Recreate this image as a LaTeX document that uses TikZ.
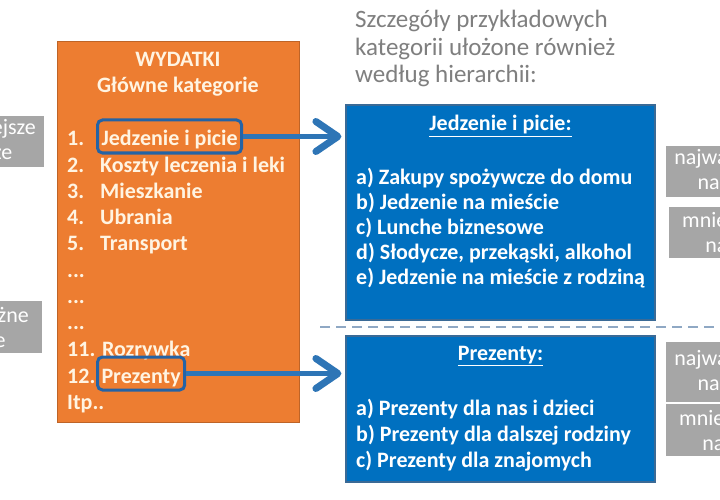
\documentclass[tikz,border=0pt]{standalone}
\usepackage{fontspec}
\setmainfont{Carlito}
\usetikzlibrary{arrows.meta}
\definecolor{pomarancz}{HTML}{ED7D31}
\definecolor{krem}{HTML}{FFF4E2}
\definecolor{niebieski}{HTML}{0070C0}
\definecolor{ramka}{HTML}{3A6A96}
\definecolor{wybor}{HTML}{2463A5}
\definecolor{strzal}{HTML}{2E75B6}
\definecolor{szary}{HTML}{A6A6A6}
\definecolor{napis}{HTML}{7F7F7F}
\definecolor{kreska}{HTML}{8FA8C4}
\tikzset{
	kategoria/.style={anchor=base west, inner sep=0pt, text=krem, font=\bfseries\fontsize{22}{25}\selectfont},
	zaznacz/.style={kategoria, draw=wybor, line width=3pt, rounded corners=5pt, inner xsep=4pt, inner ysep=6pt, text height=20pt, text depth=1pt},
	pozycja/.style={anchor=base west, inner sep=0pt, text=white, font=\bfseries\fontsize{22}{25}\selectfont},
	tytul/.style={anchor=base, inner sep=0pt, text=white, font=\bfseries\fontsize{22}{25}\selectfont},
	blok/.style={draw=ramka, line width=1.2pt, fill=niebieski},
	etykieta/.style={fill=szary, text=white, align=center, minimum width=139pt, inner sep=0pt, font=\fontsize{22}{25}\selectfont},
	strzalka/.style={draw=strzal, line width=5pt, -{Straight Barb[length=22pt,width=30pt,line width=7pt,round]}, shorten >=4pt},
}
\begin{document}
\begin{tikzpicture}[x=1pt,y=-1pt]
	\useasboundingbox (0,0) rectangle (720,500);
	\clip (0,0) rectangle (720,500);
	\fill[white] (0,0) rectangle (720,500);
	\node[etykieta, minimum height=51pt] (lewy1) at (-25.5,141.5) {najważniejsze\\na górze};
	\node[etykieta, minimum height=52pt] (lewy2) at (-27.5,327) {mniej ważne\\na dole};
	\node[draw=pomarancz!80!black, line width=0.8pt, fill=pomarancz, minimum width=242pt, minimum height=381pt] (wydatki) at (178,231.5) {};
	\node[anchor=base, text=krem, font=\bfseries\fontsize{22}{25}\selectfont] (naglowek) at (178,67) {WYDATKI};
	\node[anchor=base, text=krem, font=\bfseries\fontsize{22}{25}\selectfont] (glowne) at (178,93) {Główne kategorie};
	\node[kategoria] (n1) at (67,146) {1.};
	\node[zaznacz] (jedzenie) at (96,146) {Jedzenie i picie};
	\node[kategoria] (n2) at (67,172) {2.};
	\node[kategoria] (koszty) at (100,172) {Koszty leczenia i leki};
	\node[kategoria] (n3) at (67,198) {3.};
	\node[kategoria] (mieszkanie) at (100,198) {Mieszkanie};
	\node[kategoria] (n4) at (67,224) {4.};
	\node[kategoria] (ubrania) at (100,224) {Ubrania};
	\node[kategoria] (n5) at (67,250) {5.};
	\node[kategoria] (transport) at (100,250) {Transport};
	\node[kategoria] (k1) at (67,277) {...};
	\node[kategoria] (k2) at (67,303) {...};
	\node[kategoria] (k3) at (67,329) {...};
	\node[kategoria] (rozrywka) at (67,356) {11. Rozrywka};
	\node[kategoria] (n12) at (67,383) {12.};
	\node[zaznacz] (prezenty) at (96,383) {Prezenty};
	\node[kategoria] (itp) at (67,409) {Itp..};
	\node[anchor=base west, inner sep=0pt, align=left, text=napis, font=\fontsize{25}{27.5}\selectfont] (opis) at (355,83) {Szczegóły przykładowych\\kategorii ułożone również\\według hierarchii:};
	\node[blok, minimum width=309pt, minimum height=215pt] (blok1) at (500.5,212.5) {};
	\node[blok, minimum width=309pt, minimum height=146pt] (blok2) at (500.5,409) {};
	\node[tytul] (jedzenie tytul) at (500.5,131) {\underline{Jedzenie i picie:}};
	\node[pozycja] (a1) at (356,184) {a) Zakupy spożywcze do domu};
	\node[pozycja] (b1) at (356,209) {b) Jedzenie na mieście};
	\node[pozycja] (c1) at (356,234) {c) Lunche biznesowe};
	\node[pozycja] (d1) at (356,259) {d) Słodycze, przekąski, alkohol};
	\node[pozycja] (e1) at (356,284) {e) Jedzenie na mieście z rodziną};
	\node[tytul] (prezenty tytul) at (500.5,360) {\underline{Prezenty:}};
	\node[pozycja] (a2) at (356,415) {a) Prezenty dla nas i dzieci};
	\node[pozycja] (b2) at (356,441) {b) Prezenty dla dalszej rodziny};
	\node[pozycja] (c2) at (356,467) {c) Prezenty dla znajomych};
	\draw[kreska, line width=2pt, dash pattern=on 10pt off 6pt] (320,327) -- (720,327);
	\node[etykieta, minimum height=51pt] (prawy1) at (735.5,171.5) {najważniejsze\\na górze};
	\node[etykieta, minimum height=51pt] (prawy2) at (738.5,232.5) {mniej ważne\\na dole};
	\node[etykieta, minimum height=60pt] (prawy3) at (735.5,372) {najważniejsze\\na górze};
	\node[etykieta, minimum height=52pt] (prawy4) at (735.5,430) {mniej ważne\\na dole};
	\draw[strzalka] (jedzenie.east) -- (jedzenie.east -| blok1.west);
	\draw[strzalka] (prezenty.east) -- (prezenty.east -| blok2.west);
\end{tikzpicture}
\end{document}
